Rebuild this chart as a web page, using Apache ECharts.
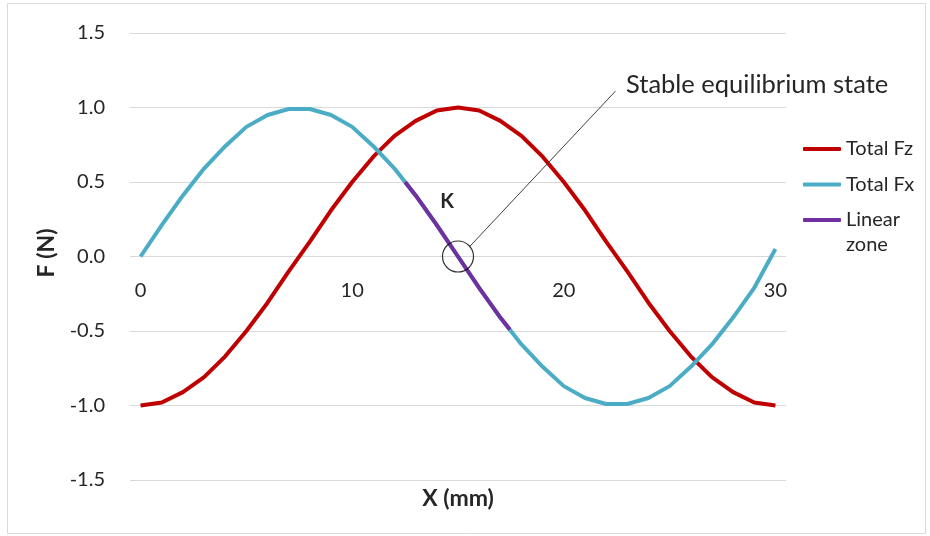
<!DOCTYPE html>
<html>
<head>
<meta charset="utf-8">
<script src="https://cdn.jsdelivr.net/npm/echarts@6/dist/echarts.min.js"></script>
<style>
  html, body { margin: 0; padding: 0; background: #fff; }
  #chart { width: 930px; height: 536px; }
</style>
</head>
<body>
<div id="chart"></div>
<script>
// Position along X (mm)
const xMm = [0, 1, 2, 3, 4, 5, 6, 7, 8, 9, 10, 11, 12, 13, 14, 15,
             16, 17, 18, 19, 20, 21, 22, 23, 24, 25, 26, 27, 28, 29, 30];
// Total vertical force Fz (N)
const totalFz = [-1.00, -0.98, -0.91, -0.81, -0.67, -0.50, -0.31, -0.10, 0.10, 0.31, 0.50,
                 0.67, 0.81, 0.91, 0.98, 1.00, 0.98, 0.91, 0.81, 0.67, 0.50,
                 0.31, 0.10, -0.10, -0.31, -0.50, -0.67, -0.81, -0.91, -0.98, -1.00];
// Total horizontal force Fx (N)
const totalFx = [0.00, 0.21, 0.41, 0.59, 0.74, 0.87, 0.95, 0.99, 0.99, 0.95, 0.87,
                 0.74, 0.59, 0.41, 0.21, 0.00, -0.21, -0.41, -0.59, -0.74, -0.87,
                 -0.95, -0.99, -0.99, -0.95, -0.87, -0.74, -0.59, -0.41, -0.21, 0.05];
// Linear zone around the equilibrium point
const linearX = [12.5, 13, 14, 15, 16, 17, 17.45];
const linearY = [0.50, 0.41, 0.21, 0.00, -0.21, -0.41, -0.49];
// Equilibrium point K
const equilibrium = [15, 0];
// Axis labels
const xTickValues = [0, 10, 20, 30];

const pairs = (xs, ys) => xs.map((x, i) => [x, ys[i]]);

const FONT = 'Lato, "Open Sans", sans-serif';
const TXT = '#262626';

// Plot box; the X axis sits on F = 0, i.e. halfway up the plot
const GRID = { left: 130, right: 144, top: 33, bottom: 56 };
const plotHeight = 536 - GRID.top - GRID.bottom;

const chart = echarts.init(document.getElementById('chart'), null, { renderer: 'canvas' });

chart.setOption({
  animation: false,
  backgroundColor: '#ffffff',
  grid: Object.assign({ containLabel: false }, GRID),
  xAxis: {
    type: 'value',
    min: -0.5,
    max: 30.5,
    position: 'bottom',
    offset: -plotHeight / 2,
    axisLine: { show: false, onZero: false },
    axisTick: { show: false },
    splitLine: { show: false },
    axisLabel: {
      customValues: xTickValues,
      margin: 24,
      fontFamily: FONT,
      fontSize: 20,
      color: TXT
    }
  },
  yAxis: {
    type: 'value',
    min: -1.5,
    max: 1.5,
    interval: 0.5,
    axisLine: { show: false, onZero: false },
    axisTick: { show: false },
    splitLine: { lineStyle: { color: '#d9d9d9', width: 1 } },
    axisLabel: {
      margin: 25,
      fontFamily: FONT,
      fontSize: 20,
      color: TXT,
      formatter: v => v.toFixed(1)
    }
  },
  legend: {
    orient: 'vertical',
    left: 798,
    top: 132,
    itemWidth: 38,
    itemHeight: 4,
    itemGap: 11.5,
    icon: 'roundRect',
    data: ['Total Fz', 'Total Fx', 'Linear zone'],
    formatter: name => (name === 'Linear zone' ? 'Linear' : name),
    textStyle: { fontFamily: FONT, fontSize: 20, color: TXT, lineHeight: 24 }
  },
  series: [
    {
      name: 'Total Fz',
      type: 'line',
      data: pairs(xMm, totalFz),
      showSymbol: false,
      color: '#c00000',
      lineStyle: { width: 4, color: '#c00000' },
      z: 2
    },
    {
      name: 'Total Fx',
      type: 'line',
      data: pairs(xMm, totalFx),
      showSymbol: false,
      color: '#4bacc6',
      lineStyle: { width: 4, color: '#4bacc6' },
      z: 3
    },
    {
      name: 'Linear zone',
      type: 'line',
      data: pairs(linearX, linearY),
      showSymbol: false,
      color: '#7030a0',
      lineStyle: { width: 4, color: '#7030a0' },
      z: 4
    },
    {
      name: 'K',
      type: 'scatter',
      data: [equilibrium],
      symbol: 'circle',
      symbolSize: 31,
      itemStyle: { color: 'rgba(0,0,0,0)', borderColor: '#000', borderWidth: 1.2 },
      z: 5,
      silent: true,
      markLine: {
        silent: true,
        symbol: 'none',
        label: { show: false },
        lineStyle: { color: '#404040', width: 1, type: 'solid' },
        data: [[{ coord: [15.54, 0.065] }, { coord: [22.44, 1.11] }]]
      }
    }
  ],
  graphic: [
    {
      type: 'rect',
      shape: { x: 7.5, y: 3.5, width: 918, height: 530 },
      style: { fill: 'none', stroke: '#d9d9d9', lineWidth: 1 },
      silent: true
    },
    {
      type: 'text',
      x: 846, y: 245,
      style: { text: 'zone', fontFamily: FONT, fontSize: 20, fill: TXT,
               textAlign: 'left', textVerticalAlign: 'middle' }
    },
    {
      type: 'text',
      x: 626, y: 85,
      style: { text: 'Stable equilibrium state', fontFamily: FONT, fontSize: 25.5, fill: TXT,
               textAlign: 'left', textVerticalAlign: 'middle' }
    },
    {
      type: 'text',
      x: 447, y: 202,
      style: { text: 'K', fontFamily: FONT, fontSize: 20, fontWeight: 'bold', fill: TXT,
               textAlign: 'center', textVerticalAlign: 'middle' }
    },
    {
      type: 'text',
      x: 458, y: 499,
      style: { text: 'X (mm)', fontFamily: FONT, fontSize: 23, fontWeight: 'bold', fill: TXT,
               textAlign: 'center', textVerticalAlign: 'middle' }
    },
    {
      type: 'text',
      x: 47, y: 253,
      rotation: Math.PI / 2,
      style: { text: 'F (N)', fontFamily: FONT, fontSize: 23, fontWeight: 'bold', fill: TXT,
               textAlign: 'center', textVerticalAlign: 'middle' }
    }
  ]
});
</script>
</body>
</html>
